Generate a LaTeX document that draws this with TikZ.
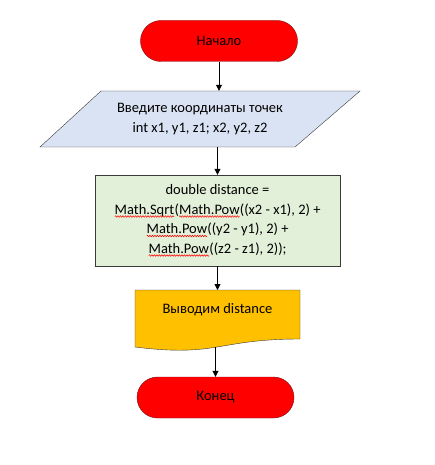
\documentclass[tikz,border=0pt]{standalone}
\usepackage{fontspec}
\setmainfont{Carlito}
\usetikzlibrary{arrows.meta}
\usetikzlibrary{positioning,decorations.pathmorphing}
\usepackage{xcolor}
\definecolor{termred}{HTML}{FF0000}
\definecolor{termline}{HTML}{7A1010}
\definecolor{inblue}{HTML}{DAE3F3}
\definecolor{calcgreen}{HTML}{E2F0D9}
\definecolor{outgold}{HTML}{FFC000}
\definecolor{boxline}{HTML}{3A3A3A}
\tikzset{
    every node/.style={font=\fontsize{14.5}{19.5}\selectfont},
    term/.style={
        draw=termline,
        fill=termred,
        rounded corners=20.5pt,
        minimum width=157pt,
        minimum height=41pt,
        inner sep=0pt
    },
    calcbox/.style={
        draw=boxline,
        fill=calcgreen,
        minimum width=245pt,
        minimum height=91pt,
        align=center,
        inner sep=0pt
    },
    flow/.style={
        -{Triangle[length=6pt, width=6pt]},
        line width=0.8pt
    },
    wavy/.style={
        red,
        line width=0.5pt,
        decorate,
        decoration={snake, amplitude=0.8pt, segment length=2.5pt}
    }
}
% spelling squiggle under a word
\newcommand{\squig}[1]{\tikz[baseline=(w.base), x=1pt, y=1pt]{%
    \node[inner sep=0pt, minimum size=0pt, outer sep=0pt] (w) {#1};
    \draw[wavy] ([yshift=-2.5pt]w.base west) -- ([yshift=-2.5pt]w.base east);}}

\begin{document}
\begin{tikzpicture}[x=1pt, y=-1pt]
    \useasboundingbox (0,0) rectangle (435,465);

    % start
    \node[term] (start) at (219,41) {Начало};

    % input
    \draw[draw=boxline, fill=inblue] (40,147) -- (295,147) -- (360,91) -- (101,91) -- cycle;
    \node[minimum height=56pt, align=center, inner sep=0pt] (in) at (200,119)
        {Введите координаты точек\\int x1, y1, z1; x2, y2, z2};

    % calculation
    \node[calcbox] (calc) at (217.5,220.5)
        {double distance =\\
         \squig{Math.Sqrt}(\squig{Math.Pow}((x2 - x1), 2) +\\
         \squig{Math.Pow}((y2 - y1), 2) +\\
         \squig{Math.Pow}((z2 - z1), 2));};

    % output
    \draw[draw=boxline, fill=outgold] (135,290) -- (300,290) -- (300,339)
        .. controls (217.5,339) and (217.5,357.5) .. (135,347) -- cycle;
    \node[inner sep=0pt] (out) at (217.5,310) {Выводим distance};
    \coordinate (doctop) at (217.5,290);
    \coordinate (docbot) at (215.5,347);

    % end
    \node[term] (finish) at (215.5,397.5) {Конец};

    \draw[flow] (start) -- (start |- in.north);
    \draw[flow] (calc |- in.south) -- (calc.north);
    \draw[flow] (calc.south) -- (doctop);
    \draw[flow] (docbot) -- (finish.north);
\end{tikzpicture}
\end{document}
